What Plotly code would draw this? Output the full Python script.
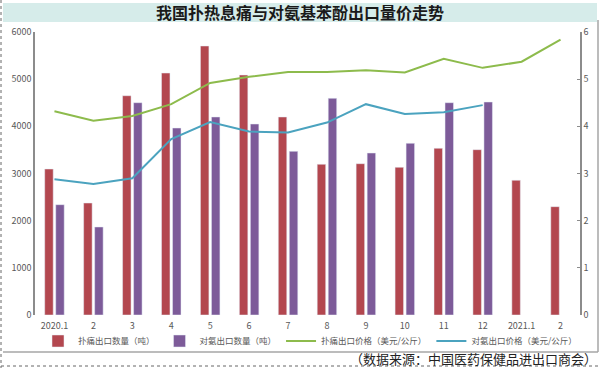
import plotly.graph_objects as go

months = ["2020.1", "2020.2", "2020.3", "2020.4", "2020.5", "2020.6", "2020.7",
          "2020.8", "2020.9", "2020.10", "2020.11", "2020.12", "2021.1", "2021.2"]
tick_labels = ["2020.1", "2", "3", "4", "5", "6", "7", "8", "9", "10", "11", "12", "2021.1", "2"]

pcm_qty = [3095, 2374, 4649, 5130, 5703, 5088, 4198, 3195, 3208, 3131, 3534, 3505, 2856, 2297]
pap_qty = [2339, 1866, 4501, 3964, 4198, 4049, 3470, 4594, 3434, 3640, 4501, 4516]
pcm_price = [4.32, 4.12, 4.22, 4.47, 4.92, 5.05, 5.15, 5.15, 5.19, 5.14, 5.43, 5.24, 5.37, 5.84]
pap_price = [2.88, 2.78, 2.90, 3.73, 4.09, 3.89, 3.87, 4.08, 4.47, 4.26, 4.30, 4.45]

names = ["扑痛出口数量（吨）", "对氨出口数量（吨）", "扑痛出口价格（美元/公斤）", "对氨出口价格（美元/公斤）"]

RED = "#b3474f"
PURPLE = "#7d5b99"
GREEN = "#8dbb4c"
BLUE = "#4ba3bf"
FONT = "Noto Sans CJK SC"

fig = go.Figure()
fig.add_trace(go.Bar(x=months[:len(pcm_qty)], y=pcm_qty, name=names[0], marker_color=RED))
fig.add_trace(go.Bar(x=months[:len(pap_qty)], y=pap_qty, name=names[1], marker_color=PURPLE))
fig.add_trace(go.Scatter(x=months[:len(pcm_price)], y=pcm_price, name=names[2], mode="lines",
                         line=dict(color=GREEN, width=2), yaxis="y2"))
fig.add_trace(go.Scatter(x=months[:len(pap_price)], y=pap_price, name=names[3], mode="lines",
                         line=dict(color=BLUE, width=2), yaxis="y2"))

# pixel -> paper helpers (plot area: x 35..580, y 32..315)
def px(x):
    return (x - 35) / 545.0

def py(y):
    return (315 - y) / 283.0

shapes = [
    dict(type="rect", xref="paper", yref="paper", x0=px(3), x1=px(597), y0=py(22), y1=py(3),
         fillcolor="#d6ecea", line=dict(width=0), layer="below"),
    dict(type="line", xref="paper", yref="paper", x0=px(3), x1=px(598), y0=py(352), y1=py(352),
         line=dict(color="#a6a6a6", width=1.5)),
    dict(type="line", xref="paper", yref="paper", x0=px(598), x1=px(598), y0=py(20), y1=py(352),
         line=dict(color="#a6a6a6", width=1.5)),
    dict(type="line", xref="paper", yref="paper", x0=px(1), x1=px(1), y0=py(0), y1=py(368),
         line=dict(color="#666666", width=1, dash="dot")),
    dict(type="line", xref="paper", yref="paper", x0=px(1), x1=px(600), y0=py(366), y1=py(366),
         line=dict(color="#666666", width=1, dash="dot")),
]

annotations = [
    dict(text="<b>我国扑热息痛与对氨基苯酚出口量价走势</b>", xref="paper", yref="paper",
         x=px(300), y=py(12.5), xanchor="center", yanchor="middle", showarrow=False,
         font=dict(family=FONT, size=16, color="#1a1a1a")),
    dict(text="（数据来源：中国医药保健品进出口商会）", xref="paper", yref="paper",
         x=px(599), y=py(358.5), xanchor="right", yanchor="middle", showarrow=False,
         font=dict(family=FONT, size=13, color="#222222")),
]

fig.update_layout(
    width=600, height=368,
    margin=dict(l=35, r=20, t=32, b=53, autoexpand=False),
    paper_bgcolor="white", plot_bgcolor="white",
    barmode="group", bargap=0.434, bargroupgap=0.23,
    font=dict(family=FONT, size=9, color="#595959"),
    showlegend=True,
    legend=dict(orientation="h", x=px(310), xanchor="center", y=py(341), yanchor="middle",
                font=dict(size=8.5, color="#595959"), itemwidth=30, tracegroupgap=0,
                bgcolor="rgba(0,0,0,0)"),
    xaxis=dict(type="category", tickmode="array", tickvals=months, ticktext=tick_labels,
               showline=False, showgrid=False, ticks="", automargin=False,
               ticklabelstandoff=4, tickfont=dict(size=9, color="#595959")),
    yaxis=dict(range=[0, 6000], dtick=1000, showgrid=False, showline=True, linecolor="#8c8c8c",
               linewidth=1.5, ticks="", zeroline=False, automargin=False,
               tickfont=dict(size=9, color="#595959")),
    yaxis2=dict(range=[0, 6], dtick=1, overlaying="y", side="right", showgrid=False,
                showline=True, linecolor="#8c8c8c", linewidth=1.5, ticks="inside", ticklen=3,
                tickcolor="#8c8c8c", zeroline=False, automargin=False,
                tickfont=dict(size=9, color="#595959")),
    shapes=shapes,
    annotations=annotations,
)

fig.write_html("out.html", config={"displayModeBar": False},
               post_script="document.body.style.margin='0px';document.body.style.overflow='hidden';")
